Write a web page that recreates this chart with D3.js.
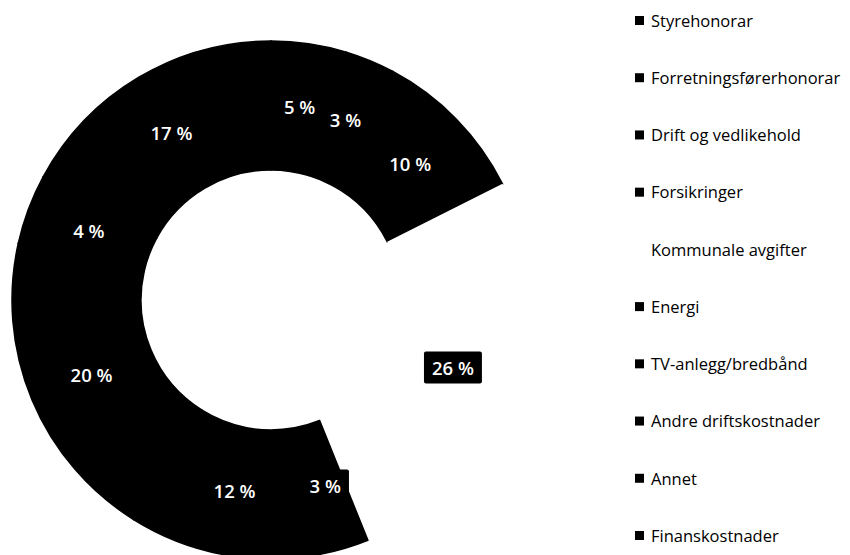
<!DOCTYPE html>
<html>
<head>
<meta charset="utf-8">
<script src="https://cdn.jsdelivr.net/npm/d3@7"></script>
<style>
  html, body { margin: 0; padding: 0; background: #fff; }
  #chart { width: 850px; height: 555px; }
</style>
</head>
<body>
<div id="chart"></div>
<script>
// Categories and shares (percent)
const categories = [
  'Styrehonorar',
  'Forretningsførerhonorar',
  'Drift og vedlikehold',
  'Forsikringer',
  'Kommunale avgifter',
  'Energi',
  'TV-anlegg/bredbånd',
  'Andre driftskostnader',
  'Annet',
  'Finanskostnader'
];
const shares = [4.7, 3.1, 9.8, 0, 26.3, 3.2, 11.8, 19.6, 4.4, 17.1];
const colors = ['#000', '#000', '#000', '#000', '#fff', '#000', '#000', '#000', '#000', '#000'];

function renderDonut() {
  const container = d3.select('#chart');
  container.selectAll('*').remove();

  const width = 850;
  const height = 555;
  const cx = 271, cy = 300;
  const outerR = 259, innerR = 130;

  const svg = container.append('svg')
    .attr('width', width)
    .attr('height', height);

  const g = svg.append('g')
    .attr('transform', `translate(${cx},${cy})`);

  const pie = d3.pie().sort(null).value(d => d.value);
  const arcs = pie(categories.map((c, i) => ({ name: c, value: shares[i], color: colors[i] })));

  const arc = d3.arc().innerRadius(innerR).outerRadius(outerR);
  const labelArc = d3.arc().innerRadius((innerR + outerR) / 2).outerRadius((innerR + outerR) / 2);

  g.selectAll('path.slice')
    .data(arcs)
    .enter()
    .append('path')
    .attr('class', 'slice')
    .attr('d', arc)
    .attr('fill', d => d.data.color)
    .attr('stroke', d => d.data.color)
    .attr('stroke-width', d => d.data.color === '#000' ? 1.5 : 0);

  // data labels with black box behind
  const labels = g.selectAll('g.label')
    .data(arcs.filter(d => d.data.value > 0))
    .enter()
    .append('g')
    .attr('class', 'label')
    .attr('transform', d => `translate(${labelArc.centroid(d)})`);

  labels.append('text')
    .attr('text-anchor', 'middle')
    .attr('dy', '0.36em')
    .attr('font-family', '"Open Sans", sans-serif')
    .attr('font-weight', 600)
    .attr('font-size', 18.5)
    .attr('fill', '#fff')
    .text(d => `${Math.round(d.data.value)} %`);

  labels.each(function() {
    const grp = d3.select(this);
    const bb = grp.select('text').node().getBBox();
    grp.insert('rect', 'text')
      .attr('x', bb.x - 8)
      .attr('y', bb.y - 4)
      .attr('width', bb.width + 16)
      .attr('height', bb.height + 7)
      .attr('rx', 2)
      .attr('fill', '#000');
  });

  // legend
  const legendY = d3.scalePoint()
    .domain(categories)
    .range([21, 536]);

  const legend = svg.selectAll('g.legend')
    .data(categories.map((c, i) => ({ name: c, color: colors[i] })))
    .enter()
    .append('g')
    .attr('class', 'legend')
    .attr('transform', d => `translate(635,${legendY(d.name)})`);

  legend.append('rect')
    .attr('x', 0)
    .attr('y', -5)
    .attr('width', 9)
    .attr('height', 9)
    .attr('fill', d => d.color);

  legend.append('text')
    .attr('x', 16)
    .attr('y', 0)
    .attr('dy', '0.35em')
    .attr('font-family', '"Open Sans", sans-serif')
    .attr('font-size', 16.5)
    .attr('fill', '#000')
    .text(d => d.name);
}

renderDonut();
</script>
</body>
</html>
